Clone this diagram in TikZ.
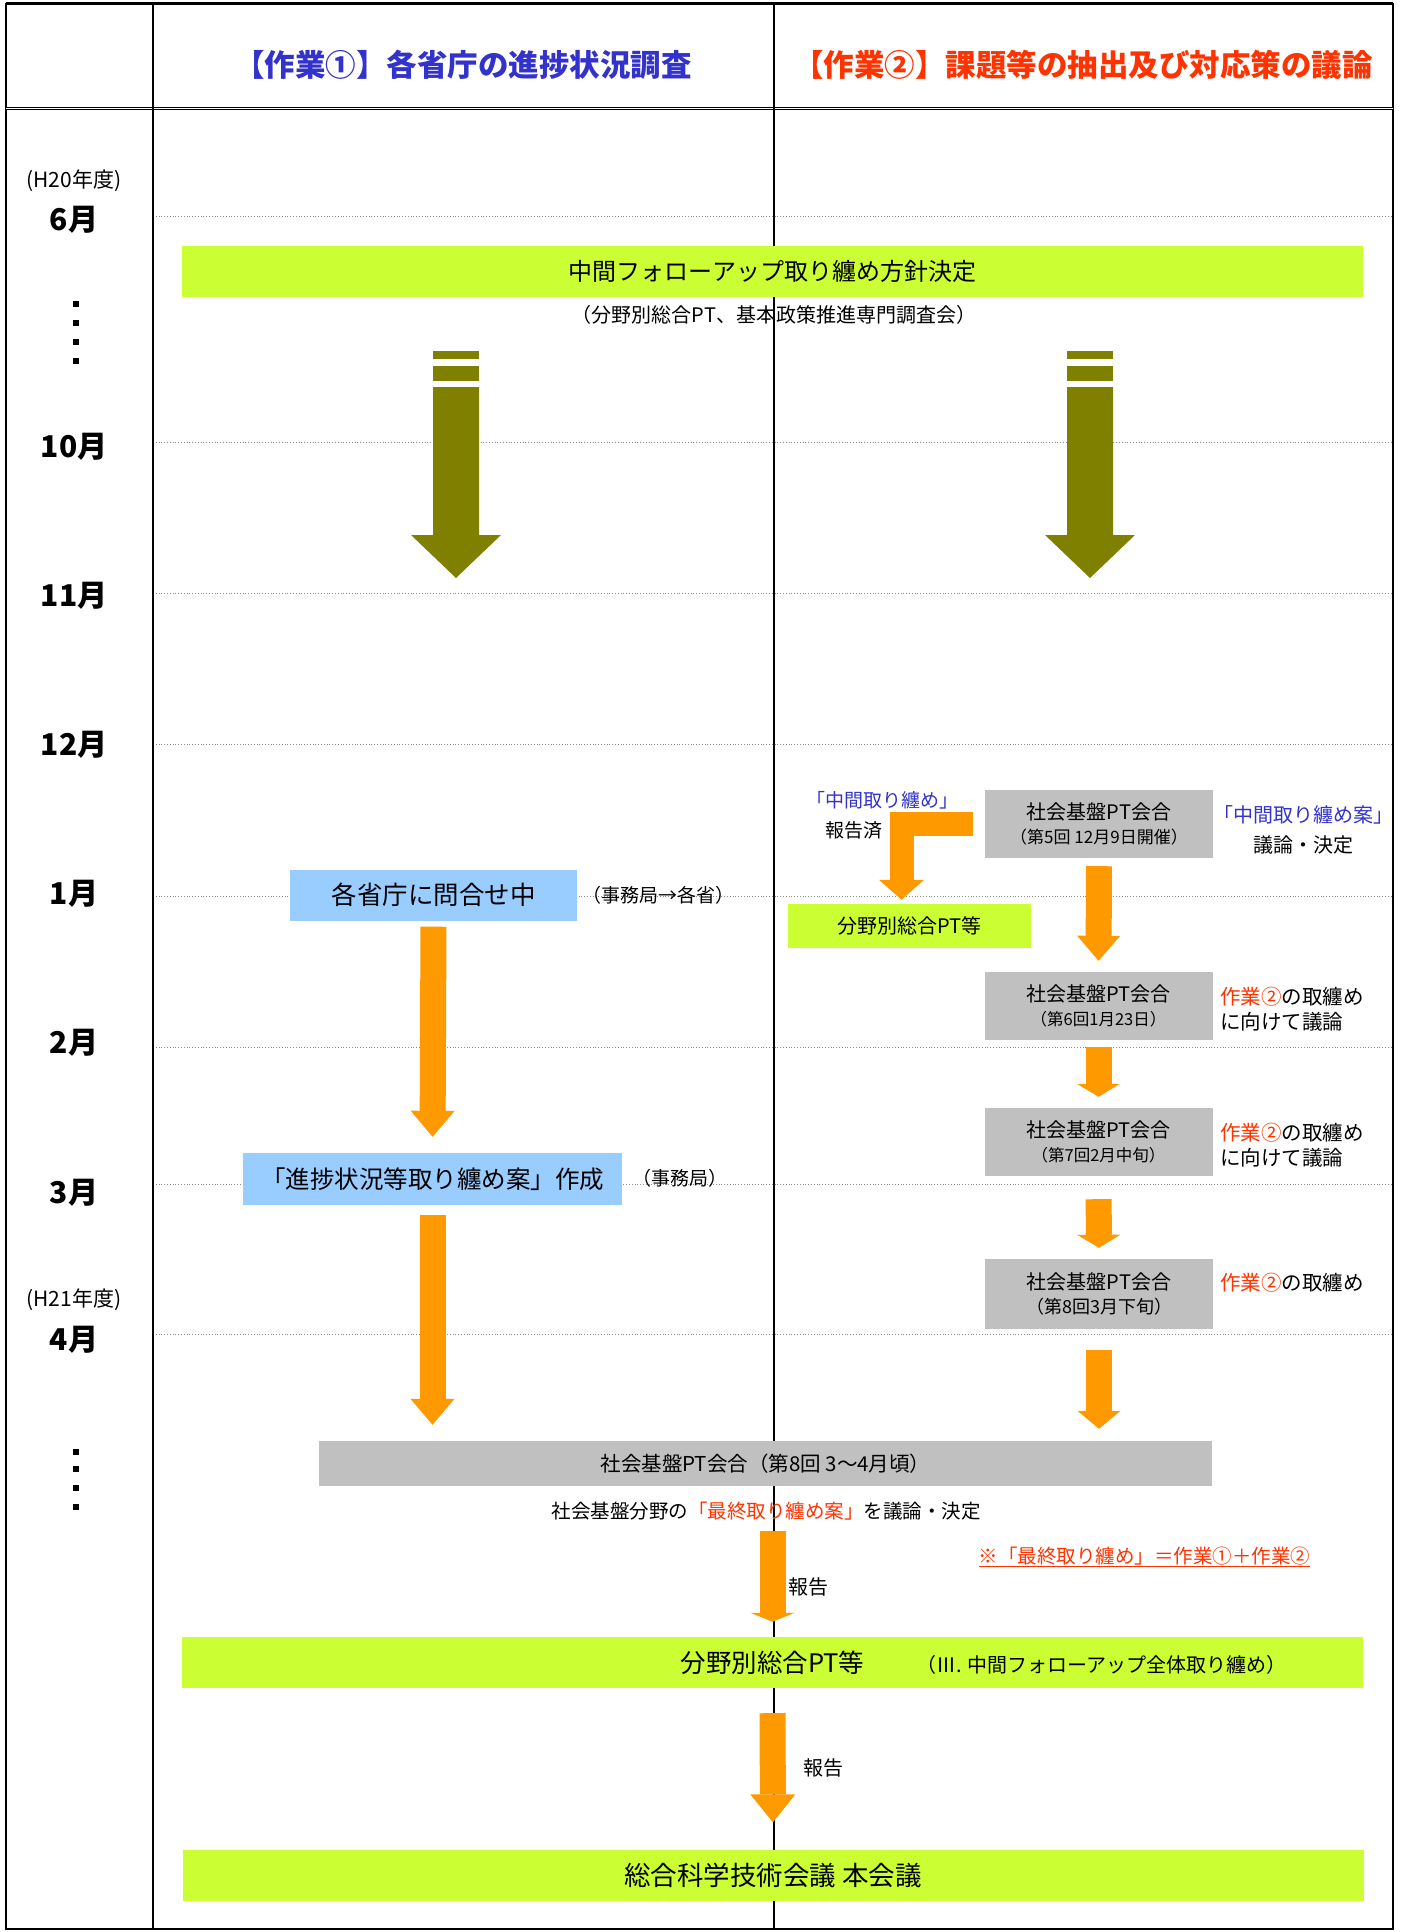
\documentclass[tikz,border=0pt]{standalone}
\usepackage{fontspec}
\setmainfont{Noto Sans CJK JP}
\usepackage{xcolor}
\usepackage{tikz}
\usetikzlibrary{arrows.meta}
\definecolor{leaf}{HTML}{CCFF33}
\definecolor{olivebar}{HTML}{808000}
\definecolor{flowor}{HTML}{FF9900}
\definecolor{ptgray}{HTML}{C0C0C0}
\definecolor{skyblue}{HTML}{99CCFF}
\definecolor{headblue}{HTML}{3333CC}
\definecolor{headred}{HTML}{FF3300}
\definecolor{rulegray}{HTML}{8C8C8C}
\newcommand{\fsz}[1]{\fontsize{#1pt}{#1pt}\selectfont}
\tikzset{
  frame/.style={draw=black, line width=1.5pt},
  monthrule/.style={draw=rulegray, line width=0.8pt, dotted},
  headtxt/.style={inner sep=0pt, font=\fsz{30.5}\bfseries},
  monthtxt/.style={inner sep=0pt, font=\fsz{30}\bfseries},
  yeartxt/.style={inner sep=0pt, font=\fsz{21}},
  greenbar/.style={fill=leaf, minimum width=1181pt, minimum height=51pt, inner sep=0pt, font=\fsz{24}},
  bluebox/.style={fill=skyblue, minimum height=51pt, inner sep=0pt, font=\fsz{25.5}},
  ptbox/.style={fill=ptgray, minimum width=228pt, minimum height=68pt, inner sep=0pt, align=center, font=\fontsize{20pt}{24pt}\selectfont},
  note/.style={inner sep=0pt, font=\fsz{19}},
  flow/.style={draw=flowor, line width=26pt, -{Triangle[length=26pt, width=44pt, line width=0pt]}},
}

\begin{document}
\begin{tikzpicture}[x=1pt, y=-1pt]
  \fill[white] (0,0) rectangle (1402,1932);

  % month rules and frame
  \foreach \y in {216,442,593,744,896,1047,1184,1334}
    \draw[monthrule] (153,\y) -- (1393,\y);
  \draw[frame] (6,4) rectangle (1393,1929);
  \draw[line width=3pt] (6,4) -- (1393,4);
  \draw[line width=1pt, double, double distance=1pt] (6,109) -- (1393,109);
  \draw[frame] (153,4) -- (153,1929);
  \draw[frame] (774,4) -- (774,1929);

  \node[headtxt, text=headblue] (headA) at (463,65) {【作業①】各省庁の進捗状況調査};
  \node[headtxt, text=headred] (headB) at (1083,65) {【作業②】課題等の抽出及び対応策の議論};

  % time axis
  \node[yeartxt] (fy20) at (74,181) {(H20年度)};
  \node[yeartxt] (fy21) at (74,1300) {(H21年度)};
  \foreach \m/\y in {6月/220,10月/447,11月/596,12月/745,1月/894,2月/1043,3月/1193,4月/1340}
    \node[monthtxt] (mon\y) at (74,\y) {\m};
  \foreach \y in {304,323,342,361,1452,1469,1488,1507}
    \fill (73,\y-3) rectangle (79,\y+3);

  \node[greenbar] (policy) at (772.5,271.5) {中間フォローアップ取り纏め方針決定};
  \node[note, font=\fsz{20}] (policysub) at (774,315) {（分野別総合PT、基本政策推進専門調査会）};

  % striped arrows
  \foreach \cx in {456,1090}{
    \fill[olivebar] (\cx-23,351) rectangle (\cx+23,359);
    \fill[olivebar] (\cx-23,366) rectangle (\cx+23,381);
    \fill[olivebar] (\cx-23,387) -- (\cx+23,387) -- (\cx+23,535) -- (\cx+45,535)
      -- (\cx,578) -- (\cx-45,535) -- (\cx-23,535) -- cycle;
  }

  % work 1
  \node[bluebox, minimum width=287pt] (ask) at (433.5,895) {各省庁に問合せ中};
  \node[note, anchor=west] (askby) at (582,895) {（事務局→各省）};
  \node[bluebox, minimum width=379pt, minimum height=52pt, font=\fsz{24.5}] (draft) at (432.5,1179) {「進捗状況等取り纏め案」作成};
  \node[note, anchor=west] (draftby) at (632,1178) {（事務局）};

  % work 2
  \node[ptbox] (pt5) at (1099,824) {社会基盤PT会合\\{\fsz{17}（第5回 12月9日開催）}};
  \node[note, anchor=west, align=left, font=\fontsize{19pt}{30pt}\selectfont] (done) at (806,815)
    {\textcolor{headblue}{「中間取り纏め」}\\\hspace*{1em}報告済};
  \node[note, align=center, font=\fontsize{20pt}{30pt}\selectfont] (agreed) at (1303,830)
    {\textcolor{headblue}{「中間取り纏め案」}\\議論・決定};
  \node[greenbar, minimum width=243pt, minimum height=44pt, font=\fsz{20}] (subpt) at (909.5,926) {分野別総合PT等};
  \node[ptbox] (pt6) at (1098.5,1006) {社会基盤PT会合\\{\fsz{16.5}（第6回1月23日）}};
  \node[ptbox] (pt7) at (1098.5,1142) {社会基盤PT会合\\{\fsz{16.5}（第7回2月中旬）}};
  \node[ptbox, minimum height=70pt] (pt8) at (1099,1294) {社会基盤PT会合\\{\fsz{18}（第8回3月下旬）}};
  \node[note, anchor=west, align=left, font=\fontsize{20.5pt}{25pt}\selectfont] (aim6) at (1220,1009.5)
    {\textcolor{headred}{作業②}の取纏め\\に向けて議論};
  \node[note, anchor=west, align=left, font=\fontsize{20.5pt}{25pt}\selectfont] (aim7) at (1220,1145.5)
    {\textcolor{headred}{作業②}の取纏め\\に向けて議論};
  \node[note, anchor=west, font=\fsz{20.5}] (aim8) at (1220,1283) {\textcolor{headred}{作業②}の取纏め};

  % joint part
  \node[ptbox, minimum width=893pt, minimum height=45pt, font=\fsz{20.5}] (final) at (765.5,1463.5) {社会基盤PT会合（第8回 3～4月頃）};
  \node[note, font=\fsz{19.5}] (decide) at (766,1511) {社会基盤分野の\textcolor{headred}{「最終取り纏め案」}を議論・決定};
  \node[note, font=\fsz{19.5}, text=headred] (formula) at (1144.5,1557) {\underline{※「最終取り纏め」＝作業①＋作業②}};
  \node[greenbar, font=\fsz{25.5}] (bunya) at (772.5,1662.5) {分野別総合PT等};
  \node[note, font=\fsz{20}, anchor=west] (bunyaext) at (916,1665) {（Ⅲ. 中間フォローアップ全体取り纏め）};
  \node[greenbar, font=\fsz{26.5}] (honkaigi) at (773,1875) {総合科学技術会議 本会議};
  \node[note, font=\fsz{20}, anchor=west] (rep1) at (788,1587) {報告};
  \node[note, font=\fsz{20}, anchor=west] (rep2) at (803,1768) {報告};

  % flows
  \draw[flow, shorten <=6pt, shorten >=16pt] (ask.south) -- (draft.north);
  \draw[flow, shorten <=10pt, shorten >=16pt] (draft.south) -- (draft.south |- final.north);
  \draw[flow, line width=24pt, -{Triangle[length=20pt, width=45pt, line width=0pt]}, shorten <=12pt, shorten >=4pt]
    (pt5.west) -| ([xshift=-8pt]subpt.north);
  \draw[flow, -{Triangle[length=25pt, width=43pt, line width=0pt]}, shorten <=8pt, shorten >=11pt] (pt5.south) -- (pt6.north);
  \draw[flow, -{Triangle[length=13pt, width=43pt, line width=0pt]}, shorten <=7pt, shorten >=11pt] (pt6.south) -- (pt7.north);
  \draw[flow, -{Triangle[length=13pt, width=43pt, line width=0pt]}, shorten <=23pt, shorten >=11pt] (pt7.south) -- (pt8.north);
  \draw[flow, -{Triangle[length=18pt, width=43pt, line width=0pt]}, shorten <=21pt, shorten >=12pt] (pt8.south) -- (pt8.south |- final.north);
  \draw[flow, -{Triangle[length=9pt, width=44pt, line width=0pt]}, shorten <=11pt, shorten >=15pt] (bunya.north |- decide.south) -- (bunya.north);
  \draw[flow, -{Triangle[length=28pt, width=45pt, line width=0pt]}, shorten <=25pt, shorten >=27pt] (bunya.south) -- (honkaigi.north);
\end{tikzpicture}
\end{document}
